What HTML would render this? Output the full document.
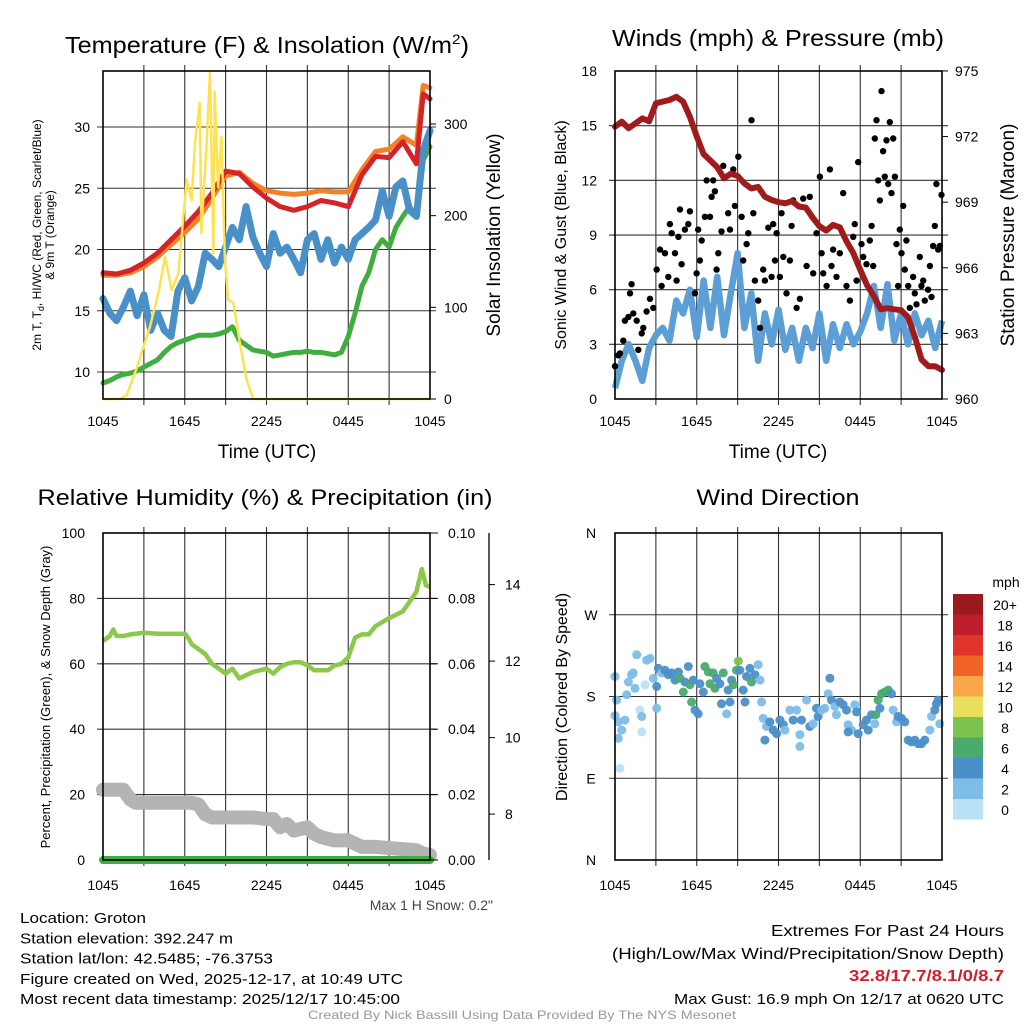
<!DOCTYPE html>
<html><head><meta charset="utf-8"><style>
html,body{margin:0;padding:0;background:#fff;}
svg{display:block;font-family:"Liberation Sans",Arial,sans-serif;}
</style></head><body>
<svg id="c" width="1024" height="1024" viewBox="0 0 1024 1024" xmlns="http://www.w3.org/2000/svg"></svg>
<script>
// ---------- DATA ----------
const tHalf = [0,0.5,1,1.5,2,2.5,3,3.5,4,4.5,5,5.5,6,6.5,7,7.5,8,8.5,9,9.5,10,10.5,11,11.5,12,12.5,13,13.5,14,14.5,15,15.5,16,16.5,17,17.5,18,18.5,19,19.5,20,20.5,21,21.5,22,22.5,23,23.5,24];
const tHour = [0,1,2,3,4,5,6,7,8,9,10,11,12,13,14,15,16,17,18,19,20,21,22,23,23.5,24];
const tempRed = [18.1,18.0,18.3,18.9,19.7,20.8,21.9,23.1,24.6,26.4,26.2,25.1,24.2,23.5,23.2,23.5,24.0,23.8,23.5,26.1,27.6,27.5,28.8,27.0,32.7,32.3];
const tempOrange = [17.9,17.9,18.1,18.6,19.4,20.4,21.4,22.5,24.2,26.0,26.3,25.4,24.8,24.6,24.5,24.6,24.8,24.7,24.7,26.5,28.0,28.2,29.2,28.5,33.4,33.2];
const tempBlue = [16.0,14.8,14.2,15.3,16.6,14.6,16.3,13.4,14.8,13.4,12.9,16.6,17.7,15.8,17.0,19.7,19.2,18.6,20.2,21.8,20.8,23.5,21.0,19.7,18.6,21.3,19.7,20.2,19.2,18.1,20.8,21.3,19.2,20.8,18.9,20.2,19.2,20.8,21.3,21.8,22.4,24.8,22.7,25.1,25.6,23.2,22.7,28.1,29.7];
const tempGreen = [9.1,9.3,9.6,9.8,9.9,10.1,10.4,10.7,11.0,11.6,12.1,12.4,12.6,12.8,13.0,13.0,13.0,13.1,13.3,13.7,12.6,12.2,11.8,11.7,11.6,11.3,11.4,11.5,11.6,11.6,11.7,11.6,11.6,11.5,11.4,11.6,12.9,14.8,17.0,18.1,20.0,20.8,20.2,21.8,22.7,23.5,22.7,27.3,28.4];
const solarT = [0,1.2,1.74,2.5,3.45,4.06,4.55,5.04,5.53,6.14,6.5,6.75,7.1,7.22,7.6,7.85,8.1,8.2,8.45,8.7,8.95,9.2,9.56,10.05,10.54,11.03,24];
const solarW = [0,0,4,35,79,115,155,119,137,239,217,279,323,181,279,357,159,335,231,286,152,108,105,61,21,0,0];
const windBlue = [0.6,2.1,3.0,2.1,1.0,2.8,3.5,3.9,3.2,5.4,4.7,6.0,3.4,6.5,3.9,6.7,3.5,5.8,8.0,3.9,5.8,2.1,4.7,3.0,4.9,2.7,3.9,2.1,3.9,2.8,4.7,2.1,4.1,2.8,4.1,3.0,3.7,4.7,6.2,3.9,6.3,3.2,4.7,3.0,4.7,3.5,4.3,2.8,4.3];
const pressure = [972.45,972.68,972.38,972.6,972.83,972.7,973.52,973.6,973.67,973.82,973.6,972.9,972.0,971.2,970.9,970.6,970.09,970.3,970.2,969.86,969.63,969.7,969.25,969.1,969.0,968.95,969.05,968.8,968.75,968.3,967.9,967.7,967.96,967.85,967.2,966.66,965.9,965.2,964.7,964.1,964.15,964.1,964.06,963.75,962.85,961.8,961.5,961.5,961.33];
const gustT = [0,0.24,0.37,0.61,0.73,0.98,1.10,1.22,1.34,1.59,1.71,1.96,2.08,2.32,2.57,2.81,3.06,3.30,3.42,3.67,3.91,4.03,4.16,4.40,4.52,4.65,4.77,4.89,5.13,5.38,5.50,5.87,5.99,6.11,6.23,6.36,6.60,6.72,6.97,7.09,7.21,7.33,7.46,7.58,7.82,7.95,8.31,8.44,8.68,8.80,9.05,9.29,9.41,9.66,9.78,10.02,10.15,10.27,10.51,10.64,10.88,11.00,11.25,11.49,11.61,11.74,11.86,12.10,12.22,12.35,12.59,12.84,12.96,13.08,13.33,13.57,13.81,14.06,14.30,14.55,14.79,15.04,15.16,15.28,15.53,15.77,15.89,16.01,16.26,16.50,16.75,16.99,17.24,17.48,17.60,17.73,17.85,18.09,18.22,18.46,18.70,18.83,18.95,19.07,19.19,19.32,19.44,19.56,19.68,19.80,19.93,20.05,20.17,20.29,20.42,20.54,20.66,20.78,20.90,21.03,21.15,21.27,21.39,21.52,21.64,21.88,22.00,22.13,22.37,22.49,22.62,22.74,22.98,23.11,23.23,23.35,23.47,23.59,23.72,23.84,23.96];
const gustV = [1.8,2.4,2.5,3.2,4.3,4.5,5.8,6.3,4.7,4.3,2.7,3.6,3.9,4.8,5.5,5.0,7.1,8.2,6.2,8.0,6.7,9.6,9.1,8.0,6.5,8.9,10.4,7.4,9.3,9.6,10.3,5.8,6.9,9.3,7.6,8.7,10.0,12.0,10.0,11.1,12.0,11.4,7.1,8.0,9.2,12.8,10.2,9.3,12.6,10.6,13.3,10.0,7.6,8.5,9.1,15.3,10.2,6.5,5.4,3.9,7.1,6.5,9.4,6.7,9.6,7.6,9.1,6.7,10.2,7.8,5.8,7.6,9.5,10.9,5.0,5.5,11.0,7.3,11.1,6.9,9.1,12.2,8.0,6.9,6.2,12.6,7.3,8.2,6.7,8.0,11.3,6.2,5.4,8.9,9.6,6.5,13.0,8.5,7.8,7.4,8.7,9.5,7.3,14.3,15.3,12.0,10.9,16.9,13.6,12.2,14.2,11.8,15.2,11.3,14.3,12.2,8.5,6.2,9.3,8.0,10.6,7.1,8.7,6.2,5.0,6.7,5.8,5.2,7.8,6.2,6.5,5.4,6.0,7.3,5.6,8.4,9.5,11.8,8.2,8.4,11.2];
const rhT = [0,0.5,0.75,1,1.5,2,3,4,5,6,6.25,6.5,7,7.5,8,8.5,9,9.5,10,10.5,11,12,12.5,13,13.5,14,14.5,15,15.5,16,16.5,17,17.5,18,18.5,19,19.5,20,21,21.5,22,22.5,23,23.4,23.7,24];
const rhV = [67,68.5,70.5,68.5,68.5,69,69.5,69.2,69.2,69.2,68,66,64.5,63,60,58.5,57,58.5,55.5,56.5,57.5,58.5,57,59,60,60.5,60.5,59.5,58,58,58,59.5,60,62,68,69,69,71.5,74,75,76,79,82,89,84,83.5];
const snowT = [0,1.5,2,2.4,6.5,7,7.5,8,11,12,12.5,13,13.5,14,15,15.5,16,17,18,19,20,23,23.5,24];
const snowV = [21.5,21.5,18.5,17.5,17.5,17,14,13,13,12.5,12.5,10,11,9,10,8,7,6,6,4,4,3,2,1.5];
const precipT = [0,24];
const precipV = [0,0];
const dirT = [0,0.12,0,0.24,0.24,0.37,0.49,0.73,0.86,0.98,1.22,1.34,1.47,1.59,1.83,1.96,1.96,2.20,2.32,2.57,2.81,3.06,3.18,3.06,3.42,3.67,3.91,4.16,4.40,4.65,4.77,5.01,5.13,5.38,5.50,5.75,5.87,6.11,5.62,6.23,6.48,6.60,6.85,6.97,7.21,7.33,7.46,7.70,7.82,7.95,8.19,8.31,8.44,8.56,8.68,8.92,9.05,9.17,9.41,9.54,9.66,9.90,10.02,10.27,10.51,10.64,10.76,10.88,11.00,11.12,11.37,11.61,11.86,12.10,12.35,12.47,12.84,13.08,13.33,13.57,13.69,13.57,14.06,14.30,14.55,14.79,14.91,15.16,15.40,15.65,15.77,15.89,16.14,16.26,16.50,16.75,16.99,17.11,17.36,17.11,17.60,17.73,17.85,18.22,18.46,18.58,18.83,19.07,19.14,19.32,19.44,19.56,19.80,20.05,20.29,20.42,20.66,20.78,21.03,21.27,21.52,21.76,22.00,22.25,22.49,22.74,23.11,23.23,23.47,23.59,23.72,23.84];
const dirDeg = [202,176,159,152,134,101,143,154,182,196,204,206,189,226,165,158,141,193,220,222,200,191,211,167,206,209,204,206,198,207,200,185,196,213,193,198,165,161,174,194,185,213,207,194,206,189,200,194,172,206,161,187,174,198,193,209,219,209,187,174,202,211,196,204,215,198,174,156,132,147,152,143,139,154,149,143,165,154,165,138,154,125,176,147,150,167,158,165,167,183,200,176,169,160,174,171,165,149,143,141,171,163,139,149,154,143,160,150,160,176,167,183,185,187,183,165,152,158,156,152,132,130,132,128,128,132,143,158,165,172,176,150];
const dirSpd = [2,2,2,2,2,0,2,2,2,2,2,2,2,2,0,2,0,0,2,2,2,4,4,2,2,4,4,4,4,4,6,6,4,4,6,4,4,4,6,4,4,6,6,6,6,6,4,4,4,6,2,4,4,4,6,6,8,4,4,4,4,4,6,4,2,2,2,2,4,2,4,4,4,4,4,2,2,4,2,2,4,2,2,4,2,4,4,2,2,2,4,4,2,2,4,4,4,2,2,4,2,4,4,4,4,4,4,2,6,6,4,6,6,6,4,2,2,4,4,4,4,4,4,4,4,4,2,2,4,4,4,2];
const cbLabels = ["20+","18","16","14","12","10","8","6","4","2","0"];
const cbColors = ["#9b1a1e","#bd1e2c","#e0342b","#f06428","#f8a848","#e8e05c","#7cc24c","#4aab6c","#4b8fc8","#7dbde8","#b9e2f7"];
const xTickLabels = ["1045","1645","2245","0445","1045"];
const tempTicks = [10,15,20,25,30];
const solarTicks = [0,100,200,300];
const windTicks = [0,3,6,9,12,15,18];
const presTicks = [960,963,966,969,972,975];
const rhTicks = [0,20,40,60,80,100];
const precTicks = ["0.00","0.02","0.04","0.06","0.08","0.10"];
const snowTicks = [8,10,12,14];
const dirTicks = ["N","E","S","W","N"];

// ---------- DRAWING ----------
const S = document.getElementById('c');
const NS = 'http://www.w3.org/2000/svg';
function mk(tag, attrs, parent){
  const e = document.createElementNS(NS, tag);
  for (const k in attrs) e.setAttribute(k, attrs[k]);
  (parent||S).appendChild(e);
  return e;
}
function txt(s, x, y, size, anchor, extra, parent){
  const e = mk('text', Object.assign({x:x, y:y, 'font-size':size, 'text-anchor':anchor||'middle', fill:'#000'}, extra||{}), parent);
  e.textContent = s;
  return e;
}
function pathFrom(ts, vs, fx, fy){
  let d = '';
  for (let i=0;i<ts.length;i++) d += (i?'L':'M') + fx(ts[i]).toFixed(1) + ' ' + fy(vs[i]).toFixed(1);
  return d;
}
function xAxis(L, R){ return t => L + t/24*(R-L); }
function frameGrid(L, R, T, B, hY, g){
  for (let k=1;k<8;k++){
    const x = L + k*(R-L)/8;
    const l = mk('line',{x1:x,x2:x,y1:T-6,y2:B+6,stroke:'#333','stroke-width':1.1}, g);
    
    
  }
  hY.forEach(y=>{
    const l = mk('line',{x1:L-6,x2:R+6,y1:y,y2:y,stroke:'#333','stroke-width':1.1}, g);
    
    
  });
}
function frame(L,R,T,B,g){
  const r = mk('rect',{x:L,y:T,width:R-L,height:B-T,fill:'none',stroke:'#000','stroke-width':1.6}, g);
  
  
}
function xLabels(L,R,y,g){
  xTickLabels.forEach((s,i)=>{
    const x = L + i*(R-L)/4;
    const t = txt(s, x, y, 14, 'middle', {}, g);
    
    
  });
}

// ===== Panel 1 =====
(function(){
  const g = mk('g',{});  
  const L=103,R=430,T=71,B=399;
  const fx = xAxis(L,R);
  const fy = v => 372 - (v-10)*12.25;
  const fs = w => 399 - w*0.9167;
  frameGrid(L,R,T,B, tempTicks.map(fy), g);
  const series = [[tHalf,tempGreen,'#3fae3f','dewpoint-line',5],[tHalf,tempBlue,'#4a90c8','windchill-line',7],[tHour,tempOrange,'#f58025','9m-temp-line',5],[tHour,tempRed,'#d42428','2m-temp-line',5]];
  series.forEach(s=>{
    const p = mk('path',{d:pathFrom(s[0],s[1],fx,fy),fill:'none',stroke:s[2],'stroke-width':s[4],'stroke-linejoin':'round','stroke-linecap':'round'}, g);
    
    
  });
  const sp = mk('path',{d:pathFrom(solarT,solarW,fx,fs),fill:'none',stroke:'#fde352','stroke-width':2.5,'stroke-linejoin':'round'}, g);
  
  
  frame(L,R,T,B,g);
  tempTicks.forEach(v=>{
    const t = txt(String(v), 90, fy(v)+5, 14, 'end', {}, g);
    
    
  });
  solarTicks.forEach(v=>{
    mk('line',{x1:R,x2:R+6,y1:fs(v),y2:fs(v),stroke:'#000'},g);
    const t = txt(String(v), 444, fs(v)+5, 14, 'start', {}, g);
    
    
  });
  xLabels(L,R,426,g);
  const xt = txt('Time (UTC)', 267, 458, 19, 'middle', {}, g);
   
  const tt = mk('text',{x:267,y:53,'font-size':23,'text-anchor':'middle',textLength:404,lengthAdjust:'spacingAndGlyphs'},g);
  tt.innerHTML = 'Temperature (F) &amp; Insolation (W/m<tspan dy="-9" font-size="14">2</tspan><tspan dy="9">)</tspan>';
   
  const ly = mk('text',{x:0,y:0,'font-size':12,'text-anchor':'middle',transform:'translate(41,235) rotate(-90)'},g);
  ly.innerHTML = '2m T, T<tspan dy="3" font-size="9">d</tspan><tspan dy="-3">, HI/WC (Red, Green, Scarlet/Blue)</tspan>';
   
  const ly2 = txt('& 9m T (Orange)', 0, 0, 12, 'middle', {transform:'translate(54,235) rotate(-90)'}, g);
   
  const ry = txt('Solar Insolation (Yellow)', 0, 0, 19, 'middle', {transform:'translate(500,235) rotate(-90)'}, g);
   
})();

// ===== Panel 2 =====
(function(){
  const g = mk('g',{});  
  const L=615,R=942,T=71,B=399;
  const fx = xAxis(L,R);
  const fy = v => 399 - v*18.22;
  const fp = p => 399 - (p-960)*21.87;
  frameGrid(L,R,T,B, windTicks.slice(1,-1).map(fy), g);
  const wp = mk('path',{d:pathFrom(tHalf,windBlue,fx,fy),fill:'none',stroke:'#5b9fd6','stroke-width':6.5,'stroke-linejoin':'round'},g);
   
  for (let i=0;i<gustT.length;i++){
    const c = mk('circle',{cx:fx(gustT[i]).toFixed(1),cy:fy(gustV[i]).toFixed(1),r:3.2,fill:'#000'},g);
    
    
  }
  const pp = mk('path',{d:pathFrom(tHalf,pressure,fx,fp),fill:'none',stroke:'#a01c1c','stroke-width':6,'stroke-linejoin':'round','stroke-linecap':'round'},g);
   
  frame(L,R,T,B,g);
  windTicks.forEach(v=>{
    const t = txt(String(v), 597, fy(v)+5, 14, 'end', {}, g);
     
  });
  presTicks.forEach(v=>{
    mk('line',{x1:R,x2:R+6,y1:fp(v),y2:fp(v),stroke:'#000'},g);
    const t = txt(String(v), 955, fp(v)+5, 14, 'start', {}, g);
     
  });
  xLabels(L,R,426,g);
  const xt = txt('Time (UTC)', 778, 458, 19, 'middle', {}, g);
   
  const tt = txt('Winds (mph) & Pressure (mb)', 778, 46, 23, 'middle', {textLength:332,lengthAdjust:'spacingAndGlyphs'}, g);
   
  const ly = txt('Sonic Wind & Gust (Blue, Black)', 0, 0, 16, 'middle', {transform:'translate(566,235) rotate(-90)'}, g);
   
  const ry = txt('Station Pressure (Maroon)', 0, 0, 19, 'middle', {transform:'translate(1014,235) rotate(-90)'}, g);
   
})();

// ===== Panel 3 =====
(function(){
  const g = mk('g',{});  
  const L=103,R=430,T=533,B=860;
  const fx = xAxis(L,R);
  const fy = v => 860 - v*3.27;
  frameGrid(L,R,T,B, [20,40,60,80].map(fy), g);
  const sp = mk('path',{d:pathFrom(snowT,snowV,fx,fy),fill:'none',stroke:'#b4b4b4','stroke-width':14,'stroke-linejoin':'round','stroke-linecap':'round'},g);
   
  const pr = mk('path',{d:pathFrom(precipT,precipV,fx,fy),fill:'none',stroke:'#3fae3f','stroke-width':8,'stroke-linecap':'round'},g);
   
  const rp = mk('path',{d:pathFrom(rhT,rhV,fx,fy),fill:'none',stroke:'#8cc84b','stroke-width':4.5,'stroke-linejoin':'round'},g);
   
  frame(L,R,T,B,g);
  rhTicks.forEach(v=>{
    const t = txt(String(v), 85, fy(v)+5, 14, 'end', {}, g);
     
  });
  precTicks.forEach((s,i)=>{
    const y = fy(i*20);
    mk('line',{x1:R,x2:R+8,y1:y,y2:y,stroke:'#000'},g);
    const t = txt(s, 448, y+5, 14, 'start', {}, g);
     
  });
  const fsn = v => 860 - (v-6.8)*38.25;
  const ax = mk('line',{x1:489,x2:489,y1:533,y2:860,stroke:'#000','stroke-width':1.3},g);
   
  snowTicks.forEach(v=>{
    mk('line',{x1:489,x2:495,y1:fsn(v),y2:fsn(v),stroke:'#000'},g);
    const t = txt(String(v), 505, fsn(v)+5, 14, 'start', {}, g);
     
  });
  xLabels(L,R,890,g);
  const tt = txt('Relative Humidity (%) & Precipitation (in)', 265, 505, 22, 'middle', {textLength:455,lengthAdjust:'spacingAndGlyphs'}, g);
   
  const ly = txt('Percent, Precipitation (Green), & Snow Depth (Gray)', 0, 0, 13, 'middle', {transform:'translate(50,697) rotate(-90)'}, g);
   
  const ms = txt('Max 1 H Snow: 0.2"', 493, 910, 14, 'end', {fill:'#444'}, g);
   
})();

// ===== Panel 4 =====
(function(){
  const g = mk('g',{});  
  const L=615,R=942,T=533,B=860;
  const fx = xAxis(L,R);
  const fy = d => 860 - d*(327/360);
  frameGrid(L,R,T,B, [90,180,270].map(fy), g);
  for (let i=0;i<dirT.length;i++){
    const c = mk('circle',{cx:fx(dirT[i]).toFixed(1),cy:fy(dirDeg[i]).toFixed(1),r:4.5,fill:cbColors[10 - Math.min(10, Math.round(dirSpd[i]/2))],'fill-opacity':0.95},g);
    
    
  }
  frame(L,R,T,B,g);
  dirTicks.forEach((s,i)=>{
    const t = txt(s, 591, fy(i*90)+5, 14, 'middle', {}, g);
     
  });
  xLabels(L,R,890,g);
  const tt = txt('Wind Direction', 778, 505, 22, 'middle', {textLength:163,lengthAdjust:'spacingAndGlyphs'}, g);
   
  const ly = txt('Direction (Colored By Speed)', 0, 0, 16, 'middle', {transform:'translate(567,697) rotate(-90)'}, g);
   
  const cb = mk('g',{},g);  
  const mph = txt('mph', 1006, 587, 14, 'middle', {}, cb);
   
  cbLabels.forEach((s,i)=>{
    const y = 594 + i*20.5;
    const r = mk('rect',{x:953,y:y,width:30,height:20.6,fill:cbColors[i]},cb);
     
    const t = txt(s, 1005, y+16, 14, 'middle', {}, cb);
     
  });
})();

// ===== Footer =====
(function(){
  const g = mk('g',{});  
  const lines = ['Location: Groton','Station elevation: 392.247 m','Station lat/lon: 42.5485; -76.3753','Figure created on Wed, 2025-12-17, at 10:49 UTC','Most recent data timestamp: 2025/12/17 10:45:00'];
  const widths = [126,213,253,383,380];
  lines.forEach((s,i)=>{
    const t = txt(s, 20, 923 + i*20.3, 15, 'start', {textLength:widths[i], lengthAdjust:'spacingAndGlyphs'}, g);
     
  });
  const g2 = mk('g',{});  
  const a = txt('Extremes For Past 24 Hours', 1004, 936, 16, 'end', {textLength:233, lengthAdjust:'spacingAndGlyphs'}, g2);
   
  const b = txt('(High/Low/Max Wind/Precipitation/Snow Depth)', 1004, 959, 16, 'end', {textLength:392, lengthAdjust:'spacingAndGlyphs'}, g2);
   
  const c = txt('32.8/17.7/8.1/0/8.7', 1004, 981, 16, 'end', {fill:'#d0202a','font-weight':'bold',textLength:155, lengthAdjust:'spacingAndGlyphs'}, g2);
   
  const d = txt('Max Gust: 16.9 mph On 12/17 at 0620 UTC', 1004, 1004, 15, 'end', {textLength:330, lengthAdjust:'spacingAndGlyphs'}, g2);
   
  const e = txt('Created By Nick Bassill Using Data Provided By The NYS Mesonet', 522, 1019, 12, 'middle', {fill:'#999',textLength:428, lengthAdjust:'spacingAndGlyphs'});
   
})();
</script>
</body></html>
